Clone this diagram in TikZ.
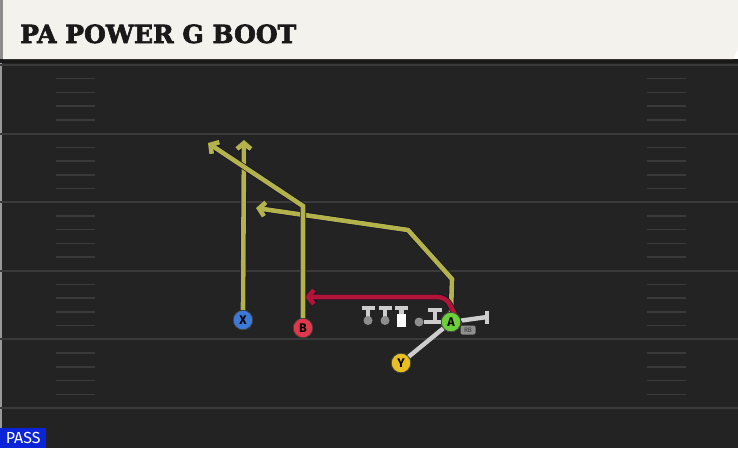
\documentclass[tikz,border=0pt]{standalone}
\usepackage{fontspec}
\setsansfont{Fira Sans}
\newfontfamily\titlefont[FakeBold=2.5]{DejaVu Serif}
\usetikzlibrary{arrows.meta}
\definecolor{fieldbg}{HTML}{232323}
\definecolor{headbg}{HTML}{F4F2EC}
\definecolor{yardln}{HTML}{3A3A3A}
\definecolor{routeyel}{HTML}{B4B24A}
\definecolor{routered}{HTML}{B01436}
\definecolor{routeedge}{HTML}{14142A}
\definecolor{blockgr}{HTML}{CDCDCD}
\definecolor{ballgr}{HTML}{8E8E8E}
\definecolor{xblue}{HTML}{3C7AD8}
\definecolor{bred}{HTML}{E0384A}
\definecolor{yyel}{HTML}{E8BE22}
\definecolor{agreen}{HTML}{6CD03A}
\definecolor{passblue}{HTML}{0B24D8}

\begin{document}
\begin{tikzpicture}[x=1pt, y=-1pt,
    player/.style={circle, draw=black!75, line width=0.7pt, inner sep=0pt, minimum size=19.5pt,
      font=\sffamily\bfseries\fontsize{12.5}{12.5}\selectfont},
    route/.style={line width=4.6pt, -{Straight Barb[length=6pt,width=14pt]},
      preaction={draw=routeedge, line width=6pt}},
    block/.style={draw=blockgr, line width=4.4pt},
    ball/.style={circle, fill=ballgr, inner sep=0pt, minimum size=9pt}]
  \useasboundingbox (0,0) rectangle (738,448);
  % field and header
  \fill[fieldbg] (0,59) rectangle (738,448);
  \fill[black!90] (0,59) rectangle (738,63);
  \fill[headbg] (3,0) -- (738,0) -- (738,49) -- (733,59) -- (3,59) -- cycle;
  \fill[black!45] (0,0) rectangle (3,59);
  \draw[black!40, line width=1.5pt] (0.75,63) -- (0.75,448);
  \node[anchor=base west, text=black!90, inner sep=0pt,
    font=\titlefont\bfseries\fontsize{25}{25}\selectfont] (title) at (20,43) {PA POWER G BOOT};
  % yard lines and hashes
  \foreach \i in {0,...,5}
    \draw[yardln, line width=2pt] (0,65+68.6*\i) -- (738,65+68.6*\i);
  \foreach \i in {0,...,4}
    \foreach \j in {1,...,4} {
      \draw[yardln, line width=1.5pt] (56,65+68.6*\i+13.72*\j) -- (95,65+68.6*\i+13.72*\j);
      \draw[yardln, line width=1.5pt] (647,65+68.6*\i+13.72*\j) -- (686,65+68.6*\i+13.72*\j);
    }
  % line
  \foreach \lx/\ln in {368/l1, 385/l2} {
    \draw[block] (\lx,320) -- (\lx,308);
    \draw[block] (\lx-6.5,308) -- (\lx+6.5,308);
    \node[ball] (\ln) at (\lx,320.5) {};
  }
  \draw[block] (401.5,320) -- (401.5,308);
  \draw[block] (395,308) -- (408,308);
  \node[fill=white, inner sep=0pt, minimum width=9pt, minimum height=13pt] (c) at (401.5,320) {};
  \node[ball] (g) at (419,322) {};
  \draw[block] (435,322) -- (435,310);
  \draw[block] (428,310) -- (442,310);
  % routes
  \coordinate (xend) at (244,140);
  \coordinate (bturn) at (303,206);
  \coordinate (bend) at (208,143);
  \coordinate (aturn1) at (452,279);
  \coordinate (aturn2) at (408,230);
  \coordinate (aend) at (256,208);
  \coordinate (rbturn) at (446,297);
  \coordinate (rbend) at (305,297);
  \coordinate (tend) at (487,317);
  \node[player, fill=agreen] (a) at (451,322) {A};
  \node[fill=ballgr, rounded corners=2pt, inner sep=0pt, minimum width=15pt, minimum height=9pt,
    text=black!80, font=\sffamily\fontsize{6.5}{6.5}\selectfont] (rb) at (468,330) {RB};
  \draw[block] (g) -- (a);
  \draw[block] (a) -- (tend);
  \draw[block] (487,310.5) -- (487,323.5);
  \draw[route, draw=routeyel] (a.north) -- (aturn1) -- (aturn2) -- (aend);
  \draw[route, draw=routered, rounded corners=8pt] (rb.north west) -- (rbturn) -- (rbend);
  \node[player, fill=agreen] at (a) {A};
  \node[player, fill=xblue] (x) at (243,320) {X};
  \node[player, fill=bred] (b) at (303,328) {B};
  \node[player, fill=yyel] (y) at (401,363) {Y};
  \draw[route, draw=routeyel] (x.north) -- (xend);
  \draw[route, draw=routeyel] (b.north) -- (bturn) -- (bend);
  \draw[block] (y) -- (a);
  % play type
  \node[fill=passblue, text=white, anchor=south west, minimum width=46pt, minimum height=20pt,
    inner sep=0pt, font=\sffamily\fontsize{16}{16}\selectfont] (pass) at (0,448) {PASS};
\end{tikzpicture}
\end{document}
